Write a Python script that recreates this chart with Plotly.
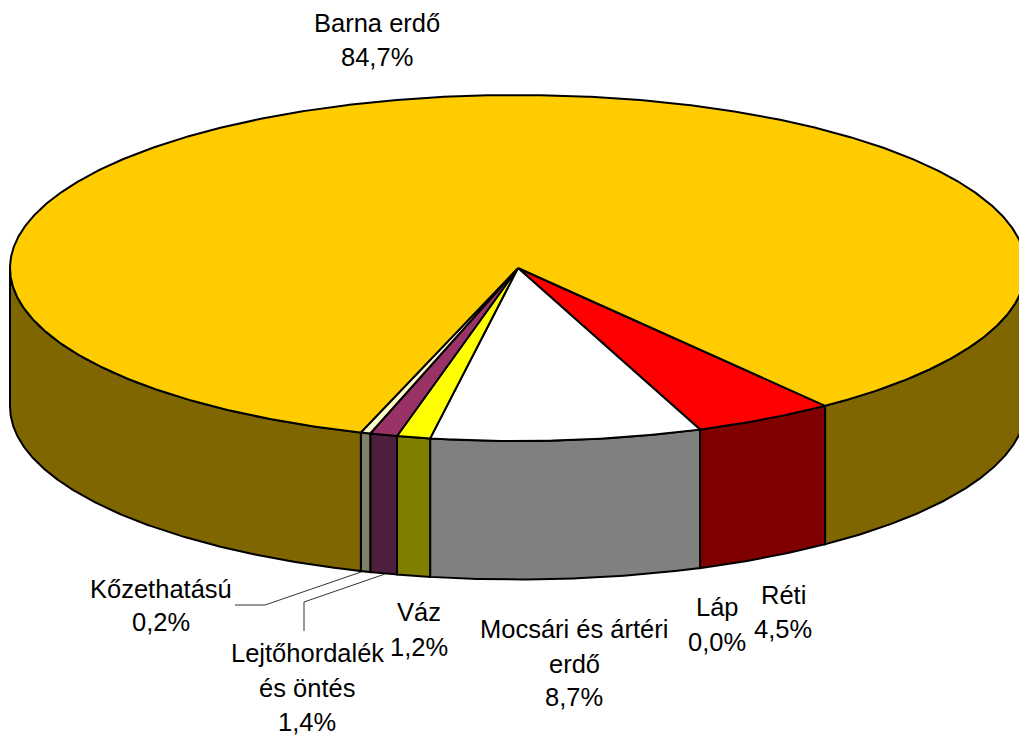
import numpy as np
import plotly.graph_objects as go

# Slices in drawing order, clockwise from the right-hand edge of the red slice
categories = ["Réti", "Láp", "Mocsári és ártéri erdő", "Váz", "Lejtőhordalék és öntés", "Kőzethatású", "Barna erdő"]
shares = [4.5, 0.0, 8.6, 1.06, 0.87, 0.31, 84.66]
top_colors = ["#FF0000", "#FFFFFF", "#FFFFFF", "#FFFF00", "#993366", "#FFFFCC", "#FFCC00"]
side_colors = ["#800000", "#808080", "#808080", "#808000", "#4D1F3D", "#808066", "#806600"]

# Data labels: text lines with their centre x and centre y
label_lines = ["Barna erdő", "84,7%", "Kőzethatású", "0,2%", "Lejtőhordalék", "és öntés", "1,4%",
               "Váz", "1,2%", "Mocsári és ártéri", "erdő", "8,7%", "Láp", "0,0%", "Réti", "4,5%"]
label_x = [377, 377, 161, 161, 307, 307, 307, 419, 419, 574, 574, 574, 717, 717, 783, 783]
label_y = [23, 57, 589, 622, 653, 688, 722, 612, 647, 629, 664, 697, 607, 642, 595, 629]

CX, CY, RX, RY, DEPTH = 518, 268, 508, 173, 138.5
START = 37.2
OUT = "#000000"


def arc(a, b, dy=0.0):
    t = np.radians(np.linspace(a, b, max(2, int(abs(b - a) * 3) + 2)))
    return CX + RX * np.sin(t), CY + RY * np.cos(t) + dy


def visible_parts(a, b):
    # a > b; keep only front-facing part of the rim
    parts = []
    for lo, hi in [(-90, 90), (-450, -270)]:
        h, l = min(a, hi), max(b, lo)
        if h > l:
            parts.append((h, l))
    return parts


fig = go.Figure()
angle = START
edges = []
for s in shares:
    edges.append((angle, angle - s * 3.6))
    angle -= s * 3.6

# side walls first
for (a, b), col in zip(edges, side_colors):
    if a == b:
        continue
    for h, l in visible_parts(a, b):
        x1, y1 = arc(h, l)
        x2, y2 = arc(l, h, DEPTH)
        fig.add_trace(go.Scatter(x=np.r_[x1, x2, x1[0]], y=np.r_[y1, y2, y1[0]], mode="lines",
                                 fill="toself", fillcolor=col, line=dict(color=OUT, width=2),
                                 hoverinfo="skip", showlegend=False))
# top faces
for (a, b), col in zip(edges, top_colors):
    if a == b:
        continue
    x1, y1 = arc(a, b)
    fig.add_trace(go.Scatter(x=np.r_[CX, x1, CX], y=np.r_[CY, y1, CY], mode="lines",
                             fill="toself", fillcolor=col, line=dict(color=OUT, width=2),
                             hoverinfo="skip", showlegend=False))

# leader lines
fig.add_trace(go.Scatter(x=[361, 265, 235], y=[572, 605, 605], mode="lines",
                         line=dict(color="#333333", width=1), hoverinfo="skip", showlegend=False))
fig.add_trace(go.Scatter(x=[385, 304, 304], y=[574, 602, 631], mode="lines",
                         line=dict(color="#333333", width=1), hoverinfo="skip", showlegend=False))

for t, x, y in zip(label_lines, label_x, label_y):
    fig.add_annotation(x=x, y=y, text=t, showarrow=False, xanchor="center", yanchor="middle",
                       font=dict(family="Liberation Sans, Arial, sans-serif", size=25.5, color="#000000"))

fig.update_layout(width=1019, height=735, margin=dict(l=0, r=0, t=0, b=0),
                  paper_bgcolor="#FFFFFF", plot_bgcolor="#FFFFFF",
                  xaxis=dict(range=[0, 1019], visible=False, fixedrange=True),
                  yaxis=dict(range=[735, 0], visible=False, fixedrange=True))
fig.write_html("out.html", config={"displayModeBar": False},
               post_script="document.documentElement.style.overflow='hidden';document.body.style.margin='0';")
